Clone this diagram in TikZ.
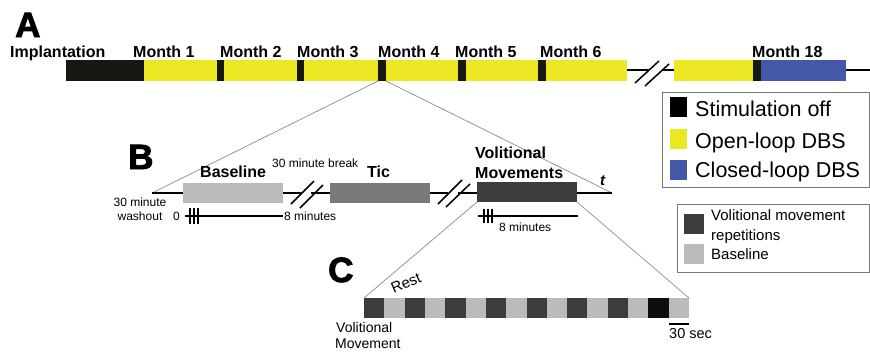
\documentclass[tikz,border=0pt]{standalone}
\usepackage{fontspec}
\setmainfont{Liberation Sans}
\newfontfamily\heavyfont[BoldFeatures={FakeBold=2.5}]{Liberation Sans}
\definecolor{dbsyellow}{HTML}{EBE823}
\definecolor{dbsblue}{HTML}{4457A8}
\definecolor{offblack}{HTML}{161814}
\definecolor{basegray}{HTML}{BBBBBB}
\definecolor{ticgray}{HTML}{7A7A7C}
\definecolor{volgray}{HTML}{3C3C3C}
\definecolor{zoomgray}{HTML}{8A8A8A}
\definecolor{framegray}{HTML}{777777}
\tikzset{
  seg/.style={draw=none, inner sep=0, outer sep=0, anchor=north west},
  axis/.style={line width=1.5pt, black},
  slash/.style={line width=1.5pt, black},
  zoomline/.style={line width=0.7pt, zoomgray},
  bigletter/.style={inner sep=0, anchor=base west, font=\heavyfont\bfseries\fontsize{35}{36}\selectfont},
  monthlbl/.style={inner sep=0, anchor=base west, font=\bfseries\fontsize{16}{18}\selectfont},
  blbl/.style={inner sep=0, anchor=base west, font=\bfseries\fontsize{16}{18}\selectfont},
  smalllbl/.style={inner sep=0, anchor=base west, font=\fontsize{12}{14}\selectfont},
  leglbl/.style={inner sep=0, anchor=base west, font=\fontsize{21.5}{24}\selectfont},
  leg2lbl/.style={inner sep=0, anchor=base west, font=\fontsize{15}{17}\selectfont},
  clbl/.style={inner sep=0, font=\fontsize{14}{16}\selectfont},
  legframe/.style={draw=framegray, line width=0.9pt, fill=white},
}
\begin{document}
\begin{tikzpicture}[x=1pt,y=-1pt]
\useasboundingbox (0,0) rectangle (870,354);

% ---------------- A ----------------
\node[bigletter] (labA) at (15,37) {A};
\draw[axis] (846,70) -- (870,70);
\draw[axis] (627,70) -- (649,70);
\draw[axis] (662,70) -- (674,70);
\draw[slash] (635,83) -- (659,61);
\draw[slash] (645,86) -- (669,64);

\node[seg, fill=offblack, minimum width=71, minimum height=21] (impl) at (66,60) {};
\node[seg, fill=dbsyellow, minimum width=483, minimum height=21] (yel1) at (144,60) {};
\node[seg, fill=offblack, minimum width=7, minimum height=21] (m1) at (137,60) {};
\node[seg, fill=offblack, minimum width=7, minimum height=21] (m2) at (217,60) {};
\node[seg, fill=offblack, minimum width=7, minimum height=21] (m3) at (297,60) {};
\node[seg, fill=offblack, minimum width=8, minimum height=21] (m4) at (378,60) {};
\node[seg, fill=offblack, minimum width=8, minimum height=21] (m5) at (458,60) {};
\node[seg, fill=offblack, minimum width=8, minimum height=21] (m6) at (538,60) {};
\node[seg, fill=dbsyellow, minimum width=79, minimum height=21] (yel2) at (674,60) {};
\node[seg, fill=offblack, minimum width=8, minimum height=21] (m18) at (753,60) {};
\node[seg, fill=dbsblue, minimum width=85, minimum height=21] (blue) at (761,60) {};

\node[monthlbl] (tImpl) at (10,57) {Implantation};
\node[monthlbl] (tM1) at (133,57) {Month 1};
\node[monthlbl] (tM2) at (220,57) {Month 2};
\node[monthlbl] (tM3) at (297,57) {Month 3};
\node[monthlbl] (tM4) at (378,57) {Month 4};
\node[monthlbl] (tM5) at (455,57) {Month 5};
\node[monthlbl] (tM6) at (540,57) {Month 6};
\node[monthlbl] (tM18) at (752,57) {Month 18};

% legend 1
\node[seg, legframe, minimum width=207, minimum height=95] (leg1) at (662,92) {};
\node[seg, fill=black, minimum width=17, minimum height=20] (k1) at (670,97) {};
\node[seg, fill=dbsyellow, minimum width=17, minimum height=20] (k2) at (670,129) {};
\node[seg, fill=dbsblue, minimum width=17, minimum height=20] (k3) at (670,160) {};
\node[leglbl] (l1) at (695,116) {Stimulation off};
\node[leglbl] (l2) at (695,148) {Open-loop DBS};
\node[leglbl] (l3) at (695,177) {Closed-loop DBS};

% ---------------- B ----------------
\coordinate (bstart) at (152,193);
\coordinate (bend) at (612,193);
\draw[zoomline] (m4.south west) -- (bstart);
\draw[zoomline] (m4.south east) -- (bend);

\node[bigletter] (labB) at (128,169) {B};
\draw[axis] (bstart) -- (301,193);
\draw[axis] (311,193) -- (448,193);
\draw[axis] (458,193) -- (bend);
\draw[slash] (291,204) -- (314,181);
\draw[slash] (300,208) -- (323,185);
\draw[slash] (438,204) -- (462,180);
\draw[slash] (446,207) -- (470,184);

\node[seg, fill=basegray, minimum width=100, minimum height=20] (base) at (183,183) {};
\node[seg, fill=ticgray, minimum width=100, minimum height=20] (tic) at (330,183) {};
\node[seg, fill=volgray, minimum width=100, minimum height=20] (vol) at (477,182) {};

\node[blbl] (tBase) at (200,177) {Baseline};
\node[blbl] (tTic) at (367,177) {Tic};
\node[blbl] (tVol1) at (475,158) {Volitional};
\node[blbl] (tVol2) at (475,178) {Movements};
\node[inner sep=0, anchor=base west, font=\bfseries\itshape\fontsize{15}{17}\selectfont] (tt) at (600,185) {t};
\node[smalllbl] (tBreak) at (272,167) {30 minute break};
\node[clbl, font=\fontsize{12}{14}\selectfont, anchor=base] (tWash1) at (140,206) {30 minute};
\node[clbl, font=\fontsize{12}{14}\selectfont, anchor=base] (tWash2) at (140,220) {washout};

% time scales
\node[smalllbl] (t0) at (173,220) {0};
\draw[axis] (185,216) -- (283,216);
\foreach \x in {190,194,198} \draw[line width=1.3pt] (\x,208) -- (\x,224);
\node[smalllbl] (t8a) at (284,220) {8 minutes};
\draw[axis] (478,216) -- (578,216);
\foreach \x in {484,488,492} \draw[line width=1.3pt] (\x,209) -- (\x,223);
\node[smalllbl] (t8b) at (499,231) {8 minutes};

% legend 2
\node[seg, legframe, minimum width=192, minimum height=68] (leg2) at (677,204) {};
\node[seg, fill=volgray, minimum width=20, minimum height=20] (k4) at (684,214) {};
\node[seg, fill=basegray, minimum width=20, minimum height=20] (k5) at (684,244) {};
\node[leg2lbl] (l4) at (711,220) {Volitional movement};
\node[leg2lbl] (l5) at (711,240) {repetitions};
\node[leg2lbl] (l6) at (711,259) {Baseline};

% ---------------- C ----------------
\node[bigletter] (labC) at (328,282) {C};
\foreach \i in {0,...,15} {
  \pgfmathsetmacro\xx{364+\i*20.3125}
  \ifodd\i
    \node[seg, fill=basegray, minimum width=20.3125, minimum height=20] (c\i) at (\xx,298) {};
  \else
    \node[seg, fill=volgray, minimum width=20.3125, minimum height=20] (c\i) at (\xx,298) {};
  \fi
}
\node[seg, fill=black!95, minimum width=20.3125, minimum height=20] (c14b) at (648.375,298) {};
\draw[zoomline] (vol.south west) -- (c0.north west);
\draw[zoomline] (vol.south east) -- (c15.north east);

\node[clbl, font=\fontsize{15}{17}\selectfont, rotate=24] (tRest) at (406,283) {Rest};
\node[clbl, anchor=base west] (tVM1) at (336,332) {Volitional};
\node[clbl, anchor=base west] (tVM2) at (335,348) {Movement};
\draw[axis] (669,324) -- (689,324);
\node[clbl, anchor=base west, font=\fontsize{14.5}{16}\selectfont] (t30) at (669,338) {30 sec};
\end{tikzpicture}
\end{document}
